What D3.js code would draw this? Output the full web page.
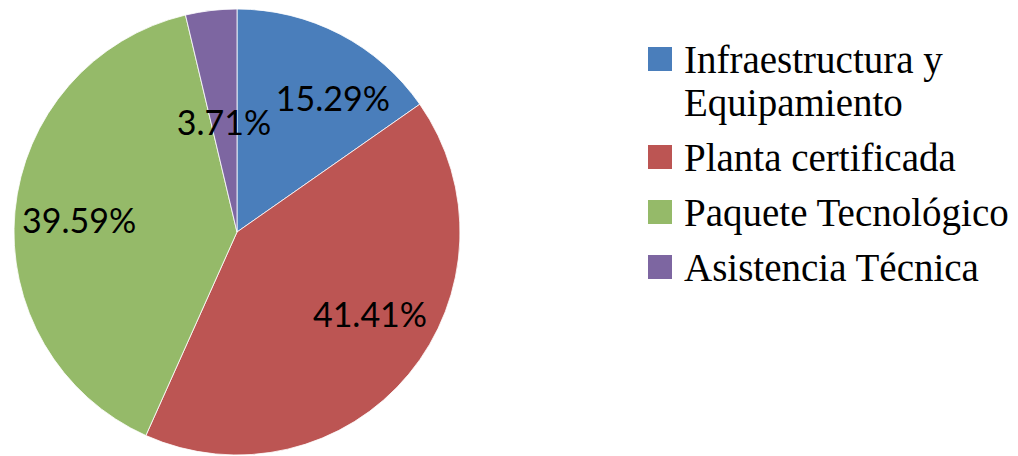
<!DOCTYPE html>
<html>
<head>
<meta charset="utf-8">
<script src="https://cdn.jsdelivr.net/npm/d3@7"></script>
<style>
  html, body { margin: 0; padding: 0; background: #fff; }
  svg { display: block; }
</style>
</head>
<body>
<div id="chart"></div>
<script>
const categories = ['Infraestructura y Equipamiento', 'Planta certificada', 'Paquete Tecnológico', 'Asistencia Técnica'];
const legendLines = [['Infraestructura y', 'Equipamiento'], ['Planta certificada'], ['Paquete Tecnológico'], ['Asistencia Técnica']];
const shares = [15.29, 41.41, 39.59, 3.71];
const colors = ['#4A7EBB', '#BC5553', '#95BA69', '#7D66A1'];

const width = 1018, height = 456;
const cx = 237, cy = 232, radius = 223;

const svg = d3.select('#chart').append('svg')
  .attr('width', width)
  .attr('height', height);

const data = categories.map((c, i) => ({ name: c, value: shares[i], color: colors[i], lines: legendLines[i] }));

const pie = d3.pie().sort(null).value(d => d.value);
const arcs = pie(data);
const arc = d3.arc().innerRadius(0).outerRadius(radius);

const g = svg.append('g').attr('transform', `translate(${cx},${cy})`);

g.selectAll('path.slice')
  .data(arcs)
  .enter().append('path')
  .attr('class', 'slice')
  .attr('d', arc)
  .attr('fill', d => d.data.color)
  .attr('stroke', '#fff')
  .attr('stroke-width', 0.8);

// best-fit label placement (angle nudge in radians, radius fraction)
const labelPlace = [[0.14, 0.74], [-0.14, 0.70], [-0.017, 0.71], [0.0, 0.50]];
const fmt = v => v.toFixed(2) + '%';

g.selectAll('text.lbl')
  .data(arcs)
  .enter().append('text')
  .attr('class', 'lbl')
  .attr('x', (d, i) => {
    const a = (d.startAngle + d.endAngle) / 2 + labelPlace[i][0];
    return Math.sin(a) * radius * labelPlace[i][1];
  })
  .attr('y', (d, i) => {
    const a = (d.startAngle + d.endAngle) / 2 + labelPlace[i][0];
    return -Math.cos(a) * radius * labelPlace[i][1];
  })
  .attr('text-anchor', 'middle')
  .attr('dominant-baseline', 'central')
  .attr('font-family', 'Lato, "Open Sans", sans-serif')
  .attr('font-size', 34)
  .attr('fill', '#000')
  .text(d => fmt(d.data.value));

// legend
const legend = svg.append('g').attr('class', 'legend');
const lineH = 43, itemGap = 55;
let baseY = 73;
data.forEach((d, i) => {
  const item = legend.append('g');
  item.append('rect')
    .attr('x', 648)
    .attr('y', baseY - 26)
    .attr('width', 24)
    .attr('height', 24)
    .attr('fill', d.color);
  d.lines.forEach((ln, j) => {
    item.append('text')
      .attr('x', 684)
      .attr('y', baseY + j * lineH)
      .attr('font-family', '"Liberation Serif", "Times New Roman", serif')
      .attr('font-size', 39)
      .attr('fill', '#000')
      .text(ln);
  });
  baseY += (d.lines.length - 1) * lineH + itemGap;
});
</script>
</body>
</html>
